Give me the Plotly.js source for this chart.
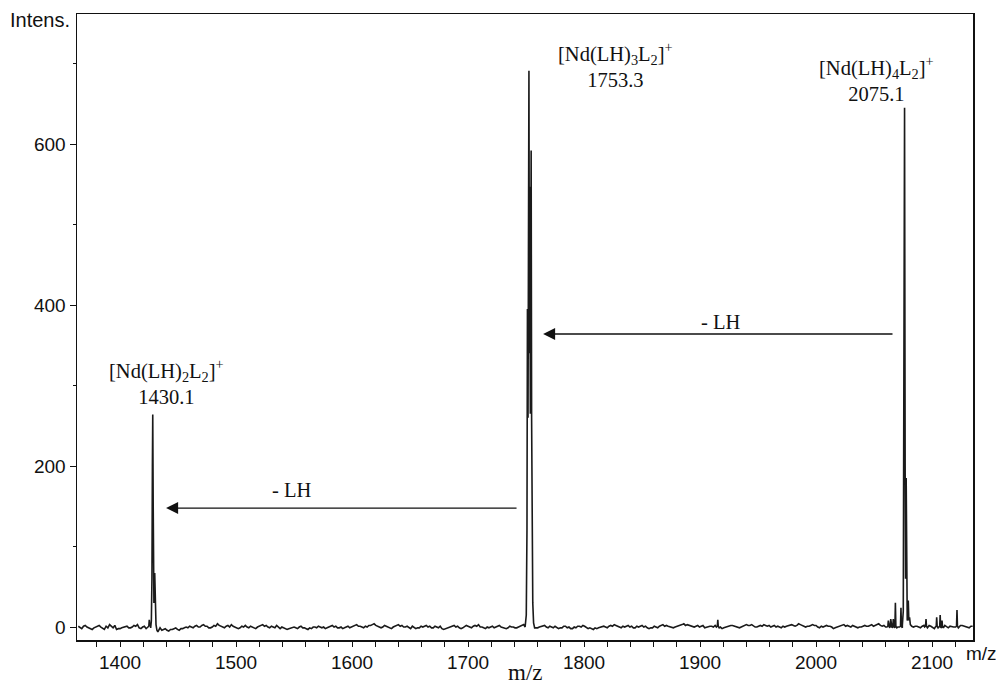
<!DOCTYPE html>
<html>
<head>
<meta charset="utf-8">
<script src="https://cdn.plot.ly/plotly-3.0.1.min.js"></script>
<style>html,body{margin:0;padding:0;background:#fff;}#chart{width:996px;height:686px;}</style>
</head>
<body>
<div id="chart"></div>
<script>
// Baseline noise: m/z from 1364 in steps of 3
const baselineStart = 1364;
const baselineStep = 3;
const baselineIntensity = [
  1,-2,2,-1,-3,0,2,-2,1,3,-1,-3,-2,0,1,-1,2,3,-2,1,
  -1,2,0,-3,-4,-2,-5,-3,-1,-4,-2,0,1,-1,2,0,3,1,-1,2,
  4,1,-1,2,3,0,-2,1,2,-1,0,-2,1,3,2,-1,0,2,-2,-1,
  -3,-1,0,-2,1,-1,-3,-2,0,1,-1,-2,0,2,1,-1,-2,0,-1,1,
  3,1,-1,0,2,4,1,-1,2,0,-2,1,3,2,0,-1,1,-2,-1,0,
  2,1,-1,0,1,-3,-1,0,2,1,-2,0,1,-1,2,3,0,-2,-1,1,
  0,2,-1,-2,1,0,-1,1,3,1,2,0,-1,1,2,-1,0,1,-2,-1,
  1,0,-2,-1,1,2,0,-1,-3,-2,0,1,-1,2,3,1,-1,0,2,1,
  -1,0,2,1,-2,-1,0,1,3,2,0,-1,1,2,4,3,1,0,2,1,
  -1,0,1,2,-1,-2,0,1,2,0,-1,1,3,2,1,0,2,3,1,0,
  2,1,-1,0,2,3,1,4,2,0,1,3,2,-1,0,2,1,-2,0,1,
  3,2,0,1,-1,0,2,1,3,2,4,1,0,2,3,1,0,-1,1,2,
  0,1,-1,2,3,1,-2,0,1,2,-1,0,1,3,2,0,-1,1
];
// Interleaved baseline samples at m/z 1365.5, 1368.5, ... (step 3)
const baselineStartB = 1365.5;
const baselineIntensityB = [
  -1,1,0,-2,-1,1,0,-3,-1,1,2,-2,-1,1,-1,0,1,-1,0,-2,
  1,-1,-2,-1,-3,-4,-3,-2,-3,-2,-1,-1,0,1,0,2,1,-1,0,1,
  2,0,1,0,1,-1,-1,0,0,1,-1,0,2,1,0,1,-1,0,0,-2,
  -2,0,-1,0,-1,-2,-1,0,-1,0,0,-1,1,0,-1,0,-1,1,0,2,
  1,0,1,2,3,2,-1,0,1,-1,0,2,1,0,1,-2,0,-1,1,1,
  0,-1,1,-1,-2,-2,0,1,0,-1,-1,2,0,1,1,0,-1,0,0,-1,
  1,0,-2,-1,0,-1,0,2,1,2,1,-1,0,1,0,1,-1,0,-1,1,
  -1,-2,0,1,0,1,-2,-2,-1,-1,1,0,1,1,2,0,1,1,0,-1,
  1,1,0,-1,-1,1,-1,2,1,1,0,0,2,3,2,2,0,1,0,2,
  0,1,0,1,0,-1,1,2,1,-1,0,2,2,3,0,1,1,2,2,1,
  0,0,1,1,3,2,2,3,1,1,2,2,0,1,1,1,0,-1,1,2,
  1,1,2,0,0,1,1,2,1,3,2,2,1,1,2,0,1,0,0,1,
  1,0,1,2,2,0,-1,1,2,0,1,0,2,2,1,0,1
];

// Peak clusters (m/z, intensity)
const peak1430Mz = [1426.3,1427.0,1427.5,1427.9,1428.2,1428.6,1428.9,1429.2,1429.6,1429.9,1430.4,1431.0,1431.8,1432.6];
const peak1430In = [2,8,60,200,264,150,75,30,50,67,20,3,-4,-6];

const peak1753Mz = [1749.2,1750.2,1750.8,1751.2,1751.7,1752.1,1752.5,1752.9,1753.3,1753.7,1754.1,1754.4,1754.8,1755.3,1755.8,1756.5,1757.4];
const peak1753In = [0,15,120,395,260,547,691,340,547,265,420,592,260,120,30,5,-1];

const peak2075Mz = [2074.4,2075.2,2075.8,2076.3,2076.8,2077.2,2077.7,2078.1,2078.6,2079.5,2080.0,2080.6,2081.3];
const peak2075In = [2,20,300,645,200,60,185,30,8,33,8,12,3];

// Small isolated spikes (centre m/z, height)
const minorMz = [1425.2,1915.3,2062.3,2064.4,2066.6,2068.4,2073.2,2094.8,2104.0,2107.0,2108.6,2121.5];
const minorIn = [9,9,8,10,10,30,24,10,12,15,8,21];

// Annotation texts
const peakLabels = [
  {mz:1439.7, y:304, text:'[Nd(LH)<sub>2</sub>L<sub>2</sub>]<sup>+</sup><br>1430.1'},
  {mz:1827.5, y:698, text:'[Nd(LH)<sub>3</sub>L<sub>2</sub>]<sup>+</sup><br>1753.3'},
  {mz:2051.7, y:681, text:'[Nd(LH)<sub>4</sub>L<sub>2</sub>]<sup>+</sup><br>2075.1'}
];
const lossArrows = [
  {fromMz:1743.1, toMz:1439.7, y:147.8, labelMz:1547.4, labelY:170},
  {fromMz:2067.2, toMz:1764.7, y:364, labelMz:1917.2, labelY:379}
];

// Build the spectrum
const windows = [[1426.0,1433.0],[1748.8,1757.8],[2074.0,2081.8]];
minorMz.forEach(m => windows.push([m-1.6, m+1.6]));
const pts = [];
const addBase = (start, arr) => arr.forEach((v,i) => {
  const m = start + i*baselineStep;
  if (!windows.some(w => m >= w[0] && m <= w[1])) pts.push([m, v]);
});
addBase(baselineStart, baselineIntensity);
addBase(baselineStartB, baselineIntensityB);
[[peak1430Mz,peak1430In],[peak1753Mz,peak1753In],[peak2075Mz,peak2075In]].forEach(p => {
  p[0].forEach((m,i) => pts.push([m, p[1][i]]));
});
minorMz.forEach((m,i) => {
  pts.push([m-1.2, 0]); pts.push([m-0.4, 1]); pts.push([m, minorIn[i]]); pts.push([m+0.4, 1]); pts.push([m+1.2, -1]);
});
pts.sort((a,b) => a[0]-b[0]);

const serif = '"Liberation Serif", "Times New Roman", serif';
const sans = '"Liberation Sans", Arial, Helvetica, sans-serif';

const annotations = [];
peakLabels.forEach(l => annotations.push({
  x:l.mz, y:l.y, xref:'x', yref:'y', text:l.text, showarrow:false,
  xanchor:'center', yanchor:'middle', align:'center',
  font:{family:serif, size:20.5, color:'#111'}
}));
lossArrows.forEach(a => {
  annotations.push({
    x:a.toMz, y:a.y, ax:a.fromMz, ay:a.y, xref:'x', yref:'y', axref:'x', ayref:'y',
    text:'', showarrow:true, arrowhead:2, arrowsize:1.85, arrowwidth:1.3, arrowcolor:'#111', standoff:0
  });
  annotations.push({
    x:a.labelMz, y:a.labelY, xref:'x', yref:'y', text:'- LH', showarrow:false,
    font:{family:serif, size:20.5, color:'#111'}
  });
});
annotations.push({x:-0.0413, y:0.9904, xref:'paper', yref:'paper', text:'Intens.', showarrow:false,
  xanchor:'center', yanchor:'middle', font:{family:sans, size:20, color:'#111'}});
annotations.push({x:1.0095, y:-0.0208, xref:'paper', yref:'paper', text:'m/z', showarrow:false,
  xanchor:'center', yanchor:'middle', font:{family:sans, size:19, color:'#111'}});
annotations.push({x:0.5, y:-0.0527, xref:'paper', yref:'paper', text:'m/z', showarrow:false,
  xanchor:'center', yanchor:'middle', font:{family:serif, size:23, color:'#111'}});

const trace = {
  x: pts.map(p => p[0]), y: pts.map(p => p[1]),
  type:'scatter', mode:'lines', line:{color:'#1a1a1a', width:1.6}, hoverinfo:'skip'
};

const layout = {
  width:996, height:686,
  margin:{l:77, r:23, t:14, b:46},
  paper_bgcolor:'#fff', plot_bgcolor:'#fff',
  showlegend:false,
  font:{family:sans, size:19, color:'#111'},
  xaxis:{
    range:[1362.9, 2135.3], tickmode:'array', tickvals:[1400,1500,1600,1700,1800,1900,2000,2100],
    ticktext:['1400','1500','1600','1700','1800','1900','2000','2100'],
    ticks:'outside', ticklen:5, tickwidth:1, tickcolor:'#111',
    minor:{dtick:20, tick0:1400, ticks:'outside', ticklen:5, tickwidth:1, tickcolor:'#111'},
    showline:true, linecolor:'#111', linewidth:1.5, mirror:true,
    showgrid:false, zeroline:false,
    tickfont:{family:sans, size:19, color:'#111'}
  },
  yaxis:{
    range:[-16.1, 761.5], tickmode:'array', tickvals:[0,200,400,600], ticktext:['0','200','400','600'],
    ticks:'outside', ticklen:6, tickwidth:1, tickcolor:'#111',
    minor:{dtick:100, tick0:0, ticks:'outside', ticklen:3, tickwidth:1, tickcolor:'#111'},
    showline:true, linecolor:'#111', linewidth:1.5, mirror:true,
    showgrid:false, zeroline:false,
    tickfont:{family:sans, size:19, color:'#111'}
  },
  annotations: annotations
};

Plotly.newPlot('chart', [trace], layout, {staticPlot:true, displayModeBar:false});
</script>
</body>
</html>
